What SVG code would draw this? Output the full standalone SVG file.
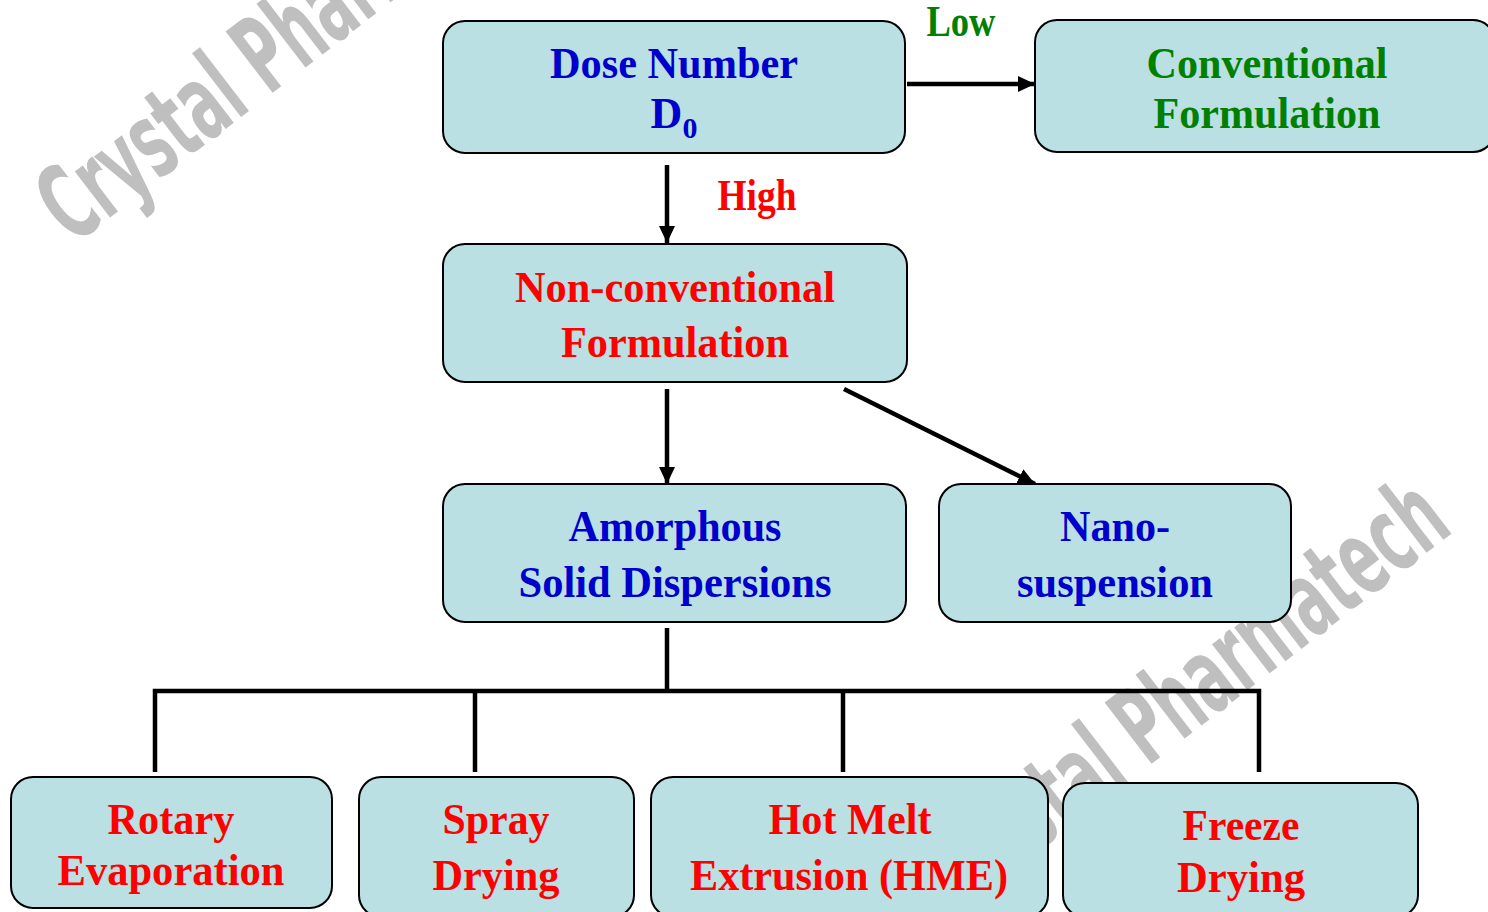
<svg xmlns="http://www.w3.org/2000/svg" width="1488" height="912" viewBox="0 0 1488 912">
<style>
.box{fill:#bae0e3;stroke:#000;stroke-width:2}
.t{font-family:"Liberation Serif","Times New Roman",serif;font-weight:bold;font-size:44px;text-anchor:middle}
.blue{fill:#0000cc}
.red{fill:#ff0000}
.green{fill:#008000}
.wm{font-family:"Liberation Sans Narrow","DejaVu Sans Condensed","DejaVu Sans",sans-serif;font-weight:bold;font-size:106px;fill:#bfbfbf}
.ln{stroke:#000;stroke-width:4.5;fill:none}
</style>
<defs>
<marker id="ah" markerUnits="userSpaceOnUse" markerWidth="20" markerHeight="16" refX="17" refY="8" orient="auto">
<path d="M0,0 L17,8 L0,16 z" fill="#000"/>
</marker>
</defs>
<rect width="1488" height="912" fill="#fff"/>
<g id="watermark">
<text class="wm" transform="translate(73,246) rotate(-37.5)" textLength="634" lengthAdjust="spacingAndGlyphs">Crystal Pharmatech</text>
<text class="wm" transform="translate(952,917) rotate(-37.5)" textLength="634" lengthAdjust="spacingAndGlyphs">Crystal Pharmatech</text>
</g>
<g id="connectors">
<line class="ln" x1="907" y1="84" x2="1035" y2="84" marker-end="url(#ah)"/>
<line class="ln" x1="667" y1="165" x2="667" y2="243" marker-end="url(#ah)"/>
<line class="ln" x1="667" y1="389" x2="667" y2="484" marker-end="url(#ah)"/>
<line class="ln" x1="844" y1="389" x2="1035" y2="484" marker-end="url(#ah)"/>
<line class="ln" x1="667" y1="628" x2="667" y2="691"/>
<polyline class="ln" points="155,772 155,691 1259,691 1259,772"/>
<line class="ln" x1="475" y1="691" x2="475" y2="772"/>
<line class="ln" x1="843" y1="691" x2="843" y2="772"/>
<text class="t green" x="961" y="36" font-size="36" textLength="69" lengthAdjust="spacingAndGlyphs">Low</text>
<text class="t red" x="757" y="210" font-size="36" textLength="79" lengthAdjust="spacingAndGlyphs">High</text>
</g>
<g id="dose">
<rect class="box" x="443" y="21" width="462" height="132" rx="22"/>
<text class="t blue" x="674" y="78" textLength="248" lengthAdjust="spacingAndGlyphs">Dose Number</text>
<text class="t blue" x="674" y="128">D<tspan font-size="30" dy="10">0</tspan></text>
</g>
<g id="conventional">
<rect class="box" x="1035" y="20" width="460" height="132" rx="22"/>
<text class="t green" x="1267" y="78" textLength="241" lengthAdjust="spacingAndGlyphs">Conventional</text>
<text class="t green" x="1267" y="128" textLength="227" lengthAdjust="spacingAndGlyphs">Formulation</text>
</g>
<g id="nonconventional">
<rect class="box" x="443" y="244" width="464" height="138" rx="22"/>
<text class="t red" x="675" y="302" textLength="320" lengthAdjust="spacingAndGlyphs">Non-conventional</text>
<text class="t red" x="675" y="357" textLength="228" lengthAdjust="spacingAndGlyphs">Formulation</text>
</g>
<g id="amorphous">
<rect class="box" x="443" y="484" width="463" height="138" rx="22"/>
<text class="t blue" x="675" y="541" textLength="213" lengthAdjust="spacingAndGlyphs">Amorphous</text>
<text class="t blue" x="675" y="597" textLength="313" lengthAdjust="spacingAndGlyphs">Solid Dispersions</text>
</g>
<g id="nano">
<rect class="box" x="939" y="484" width="352" height="138" rx="22"/>
<text class="t blue" x="1115" y="541" textLength="110" lengthAdjust="spacingAndGlyphs">Nano-</text>
<text class="t blue" x="1115" y="597" textLength="196" lengthAdjust="spacingAndGlyphs">suspension</text>
</g>
<g id="rotary">
<rect class="box" x="11" y="777" width="321" height="131" rx="22"/>
<text class="t red" x="171" y="834" textLength="127" lengthAdjust="spacingAndGlyphs">Rotary</text>
<text class="t red" x="171" y="885" textLength="227" lengthAdjust="spacingAndGlyphs">Evaporation</text>
</g>
<g id="spray">
<rect class="box" x="359" y="777" width="275" height="140" rx="22"/>
<text class="t red" x="496" y="834" textLength="107" lengthAdjust="spacingAndGlyphs">Spray</text>
<text class="t red" x="496" y="890" textLength="127" lengthAdjust="spacingAndGlyphs">Drying</text>
</g>
<g id="hme">
<rect class="box" x="651" y="777" width="397" height="140" rx="22"/>
<text class="t red" x="850" y="834" textLength="163" lengthAdjust="spacingAndGlyphs">Hot Melt</text>
<text class="t red" x="849" y="890" textLength="318" lengthAdjust="spacingAndGlyphs">Extrusion (HME)</text>
</g>
<g id="freeze">
<rect class="box" x="1063" y="783" width="355" height="134" rx="22"/>
<text class="t red" x="1241" y="840" textLength="117" lengthAdjust="spacingAndGlyphs">Freeze</text>
<text class="t red" x="1241" y="892" textLength="128" lengthAdjust="spacingAndGlyphs">Drying</text>
</g>
</svg>
